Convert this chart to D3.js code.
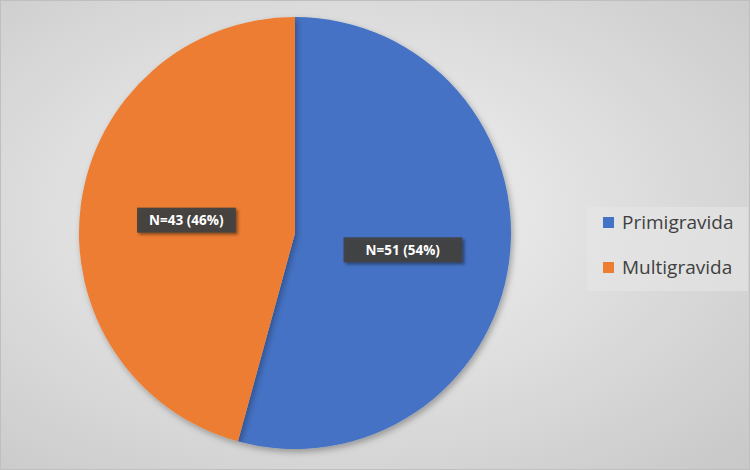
<!DOCTYPE html>
<html>
<head>
<meta charset="utf-8">
<script src="https://cdn.jsdelivr.net/npm/d3@7"></script>
<style>
  body { margin: 0; background: #fff; }
  svg { display: block; }
</style>
</head>
<body>
<div id="chart"></div>
<script>
const categories = ['Primigravida', 'Multigravida'];
const counts = [51, 43];
const percents = [54, 46];
const colors = ['#4472C4', '#ED7D31'];

const width = 750, height = 470;
const cx = 295, cy = 233, radius = 216;

const svg = d3.select('#chart').append('svg')
    .attr('width', width)
    .attr('height', height);

const defs = svg.append('defs');

// background gradient
const bg = defs.append('radialGradient')
    .attr('id', 'bgGrad')
    .attr('cx', '45%').attr('cy', '45%').attr('r', '75%');
bg.append('stop').attr('offset', '0%').attr('stop-color', '#f4f4f4');
bg.append('stop').attr('offset', '100%').attr('stop-color', '#c9c9c9');

const shadow = defs.append('filter').attr('id', 'shadow')
    .attr('x', '-20%').attr('y', '-20%').attr('width', '140%').attr('height', '140%');
shadow.append('feDropShadow')
    .attr('dx', 2).attr('dy', 3).attr('stdDeviation', 3)
    .attr('flood-color', '#000').attr('flood-opacity', 0.3);

const boxShadow = defs.append('filter').attr('id', 'boxShadow')
    .attr('x', '-20%').attr('y', '-40%').attr('width', '140%').attr('height', '180%');
boxShadow.append('feDropShadow')
    .attr('dx', 2).attr('dy', 2).attr('stdDeviation', 1.5)
    .attr('flood-color', '#000').attr('flood-opacity', 0.45);

svg.append('rect')
    .attr('x', 0.5).attr('y', 0.5)
    .attr('width', width - 1).attr('height', height - 1)
    .attr('fill', 'url(#bgGrad)')
    .attr('stroke', '#bfbfbf');

const pie = d3.pie().sort(null).value(d => d)(counts);
const arc = d3.arc().innerRadius(0).outerRadius(radius);

const g = svg.append('g').attr('transform', `translate(${cx},${cy})`);

g.selectAll('path')
    .data(pie)
    .join('path')
    .attr('d', arc)
    .attr('fill', (d, i) => colors[i])
    .attr('filter', 'url(#shadow)');

// data labels (Excel-ish placement)
const labelArc = d3.arc().innerRadius(radius * 0.55).outerRadius(radius * 0.55);
const labelOffsets = [[-10, 1], [9, 3]];
const labelPad = [22, 12];

pie.forEach((d, i) => {
    const [x, y] = labelArc.centroid(d);
    const lx = x + labelOffsets[i][0], ly = y + labelOffsets[i][1];
    const lg = g.append('g').attr('transform', `translate(${lx},${ly})`);
    const txt = `N=${counts[i]} (${percents[i]}%)`;
    const t = lg.append('text')
        .attr('text-anchor', 'middle')
        .attr('dy', '0.35em')
        .attr('fill', '#fff')
        .style('font-family', '"Open Sans", "Noto Sans", sans-serif')
        .style('font-size', '13.5px')
        .style('font-weight', 'bold')
        .text(txt);
    const bb = t.node().getBBox();
    lg.insert('rect', 'text')
        .attr('x', bb.x - labelPad[i]).attr('y', -12.5)
        .attr('width', bb.width + 2 * labelPad[i]).attr('height', 25)
        .attr('fill', '#404040')
        .attr('fill-opacity', 0.95)
        .attr('filter', 'url(#boxShadow)');
});

// legend
const legend = svg.append('g').attr('transform', 'translate(587,207)');
legend.append('rect')
    .attr('width', 161).attr('height', 84)
    .attr('fill', '#e6e6e6')
    .attr('fill-opacity', 0.6);

const items = legend.selectAll('g.item')
    .data(categories)
    .join('g')
    .attr('class', 'item')
    .attr('transform', (d, i) => `translate(16,${10 + i * 45})`);

items.append('rect')
    .attr('width', 11).attr('height', 11)
    .attr('fill', (d, i) => colors[i]);

items.append('text')
    .attr('x', 19).attr('y', 5.5)
    .attr('dy', '0.35em')
    .attr('fill', '#404040')
    .style('font-family', '"Open Sans", "Noto Sans", sans-serif')
    .style('font-size', '19px')
    .text(d => d);
</script>
</body>
</html>
